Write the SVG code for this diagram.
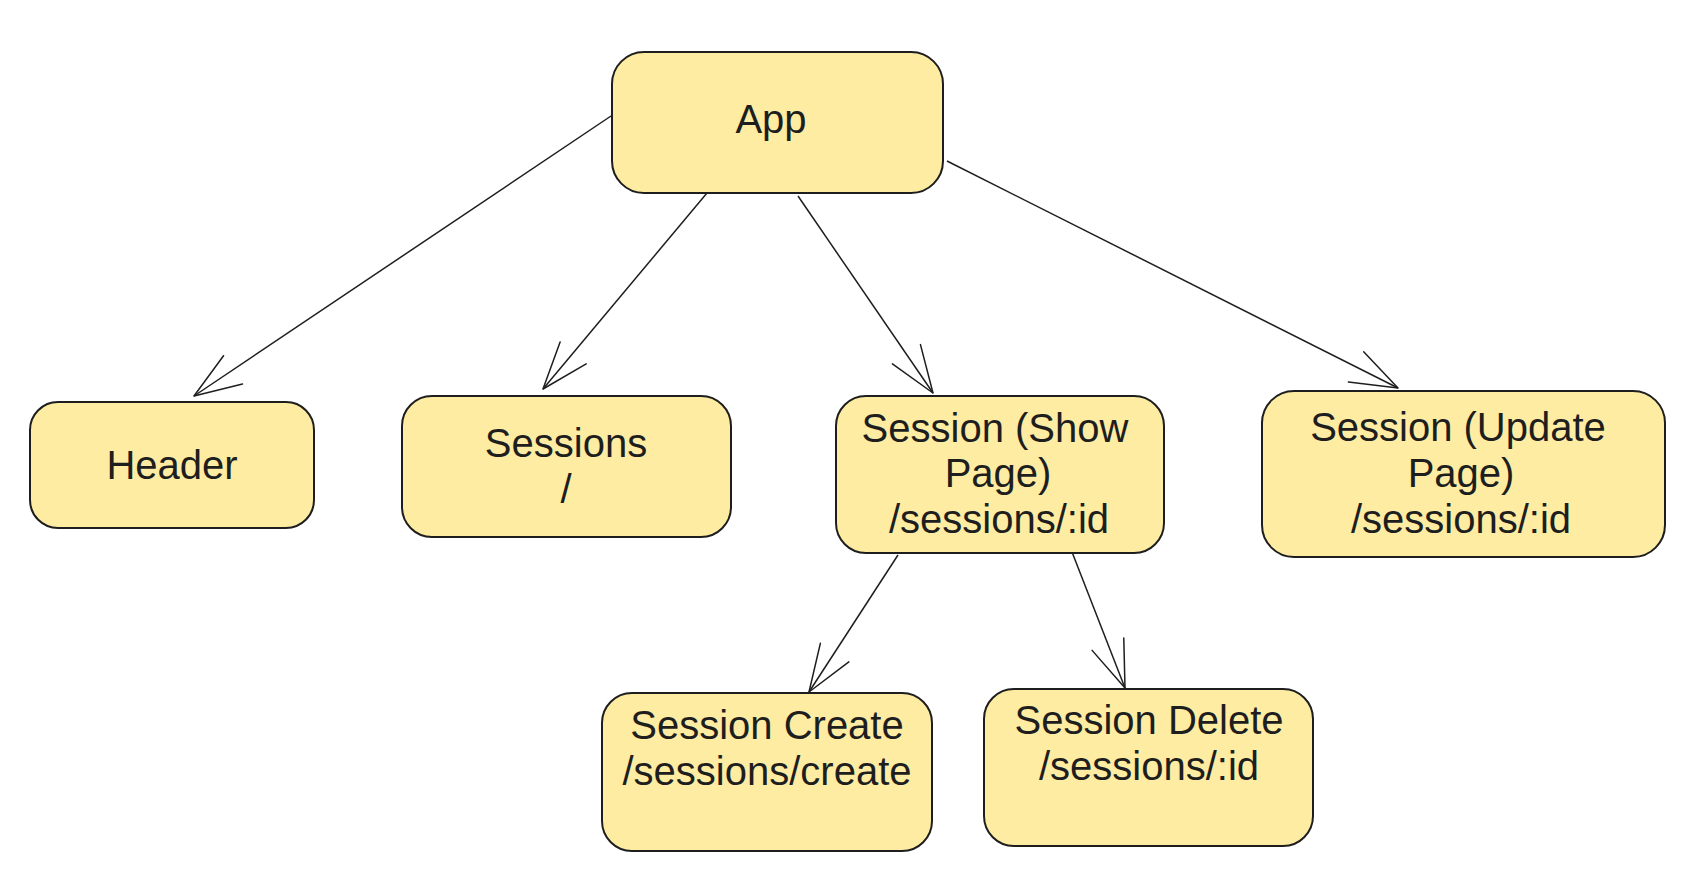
<svg xmlns="http://www.w3.org/2000/svg" width="1700" height="872" viewBox="0 0 1700 872">
<style>
.box{fill:#fdeca2;stroke:#1e1e1e;stroke-width:2}
.lbl{font-family:"Liberation Sans",Arial,Helvetica,sans-serif;font-size:40px;fill:#1e1e1e;text-anchor:middle}
.edge{fill:none;stroke:#1e1e1e;stroke-width:1.5}
</style>
<defs>
<marker id="arr" markerUnits="userSpaceOnUse" markerWidth="60" markerHeight="40" viewBox="-55 -20 60 40" refX="0" refY="0" orient="auto" overflow="visible">
<path d="M -47,-17 L 0,0 L -47,17" fill="none" stroke="#1e1e1e" stroke-width="1.5" stroke-linecap="round" stroke-linejoin="round"/>
</marker>
</defs>
<rect width="1700" height="872" fill="#ffffff"/>
<g id="connectors">
<line class="edge" x1="611" y1="116" x2="194" y2="396" marker-end="url(#arr)"/>
<line class="edge" x1="707" y1="193" x2="543" y2="389" marker-end="url(#arr)"/>
<line class="edge" x1="798" y1="196" x2="933" y2="393" marker-end="url(#arr)"/>
<line class="edge" x1="947" y1="161" x2="1398" y2="388" marker-end="url(#arr)"/>
<line class="edge" x1="898" y1="555" x2="809" y2="692" marker-end="url(#arr)"/>
<line class="edge" x1="1072" y1="552" x2="1125" y2="688" marker-end="url(#arr)"/>
</g>
<g id="app">
<rect class="box" x="612" y="52" width="331" height="141" rx="32"/>
<text class="lbl" x="771" y="133">App</text>
</g>
<g id="header">
<rect class="box" x="30" y="402" width="284" height="126" rx="28"/>
<text class="lbl" x="172" y="479">Header</text>
</g>
<g id="sessions">
<rect class="box" x="402" y="396" width="329" height="141" rx="30"/>
<text class="lbl" x="566" y="457">Sessions</text>
<text class="lbl" x="566" y="503">/</text>
</g>
<g id="session-show">
<rect class="box" x="836" y="396" width="328" height="157" rx="30"/>
<text class="lbl" x="995" y="442">Session (Show</text>
<text class="lbl" x="998" y="487">Page)</text>
<text class="lbl" x="999" y="533">/sessions/:id</text>
</g>
<g id="session-update">
<rect class="box" x="1262" y="391" width="403" height="166" rx="32"/>
<text class="lbl" x="1458" y="441">Session (Update</text>
<text class="lbl" x="1461" y="487">Page)</text>
<text class="lbl" x="1461" y="533">/sessions/:id</text>
</g>
<g id="session-create">
<rect class="box" x="602" y="693" width="330" height="158" rx="30"/>
<text class="lbl" x="767" y="739">Session Create</text>
<text class="lbl" x="767" y="785">/sessions/create</text>
</g>
<g id="session-delete">
<rect class="box" x="984" y="689" width="329" height="157" rx="30"/>
<text class="lbl" x="1149" y="734">Session Delete</text>
<text class="lbl" x="1149" y="780">/sessions/:id</text>
</g>
</svg>
